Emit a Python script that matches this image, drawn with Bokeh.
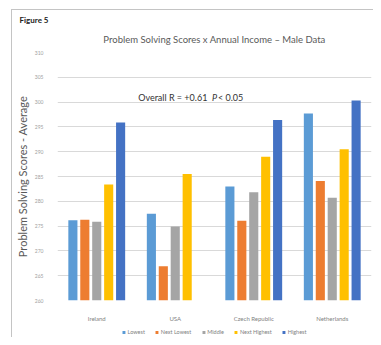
import math
from bokeh.plotting import figure
from bokeh.layouts import column
from bokeh.models import (ColumnDataSource, FactorRange, Range1d, FixedTicker, Title,
                          Legend, LegendItem, Label)
from bokeh.transform import dodge
from bokeh.embed import file_html
from bokeh.resources import INLINE

countries = ["Ireland", "USA", "Czech Republic", "Netherlands"]
series = ["Lowest", "Next Lowest", "Middle", "Next Highest", "Highest"]
lowest = [276.2, 277.5, 283.0, 297.7]
next_lowest = [276.3, 266.9, 276.1, 284.1]
middle = [275.9, 274.9, 281.8, 280.7]
next_highest = [283.4, 285.5, 289.0, 290.5]
highest = [295.9, float("nan"), 296.4, 300.3]
y_ticks = [260, 265, 270, 275, 280, 285, 290, 295, 300, 305, 310]
colors = ["#5B9BD5", "#ED7D31", "#A5A5A5", "#FFC000", "#4472C4"]

FONT = "Lato"

source = ColumnDataSource(dict(country=countries, Lowest=lowest, NextLowest=next_lowest,
                               Middle=middle, NextHighest=next_highest, Highest=highest))
cols = ["Lowest", "NextLowest", "Middle", "NextHighest", "Highest"]

# the whole chart sits inside a thin frame that starts at page x=11, y=9
p = figure(width=361, height=317, x_range=FactorRange(factors=countries, range_padding=0),
           y_range=Range1d(260, 310), output_backend="svg", toolbar_location=None,
           min_border_left=40, min_border_right=2, min_border_top=42, min_border_bottom=27)
p.outline_line_color = None
p.background_fill_color = "white"
p.border_fill_color = "white"

step = 0.152
for i, (c, col) in enumerate(zip(cols, colors)):
    p.vbar(x=dodge("country", (i - 2) * step, range=p.x_range), top=c, bottom=260,
           width=0.116, source=source, fill_color=col, line_color=None)

p.xgrid.grid_line_color = None
p.ygrid.grid_line_color = "#d9d9d9"
p.yaxis.ticker = FixedTicker(ticks=y_ticks)
for ax in (p.xaxis[0], p.yaxis[0]):
    ax.axis_line_color = None
    ax.major_tick_line_color = None
    ax.minor_tick_line_color = None
    ax.major_label_text_font = FONT
p.yaxis.major_label_text_font_size = "5px"
p.yaxis.major_label_text_color = "#a0a0a0"
p.yaxis.major_label_standoff = 8
p.yaxis.axis_label = "Problem Solving Scores - Average"
p.yaxis.axis_label_text_font = FONT
p.yaxis.axis_label_text_font_size = "11px"
p.yaxis.axis_label_text_font_style = "normal"
p.yaxis.axis_label_text_color = "#595959"
p.yaxis.axis_label_standoff = 3
p.xaxis.major_label_text_font_size = "6px"
p.xaxis.major_label_text_color = "#7f7f7f"
p.xaxis.major_label_standoff = 8

p.add_layout(Title(text="Problem Solving Scores x Annual Income \u2013 Male Data", align="center",
                   text_font=FONT, text_font_size="9.5px", text_font_style="normal",
                   text_color="#595959", standoff=15, offset=-4), "above")
p.add_layout(Title(text="Figure 5", align="left", offset=-38,
                   text_font=FONT, text_font_size="8px", text_font_style="bold",
                   text_color="#222222", standoff=0, text_line_height=0.8), "above")

def y_of(page_y):
    return 260 + (300 - page_y) / 4.96

def x_of(page_x):
    return (page_x - 52) / 79.75

p.add_layout(Label(x=x_of(134), y=y_of(97), text="Overall R = +0.61",
                   text_font=FONT, text_font_size="9px", text_color="#333333",
                   text_baseline="middle", text_align="left"))
p.add_layout(Label(x=x_of(209), y=y_of(97), text="P",
                   text_font=FONT, text_font_size="9px", text_color="#333333",
                   text_font_style="italic", text_baseline="middle", text_align="left"))
p.add_layout(Label(x=x_of(215), y=y_of(97), text="< 0.05",
                   text_font=FONT, text_font_size="9px", text_color="#333333",
                   text_baseline="middle", text_align="left"))

# legend strip
lg = figure(width=361, height=10, output_backend="svg", toolbar_location=None,
            x_range=FactorRange(factors=countries), y_range=Range1d(0, 1),
            x_axis_location=None, y_axis_location=None,
            min_border_left=0, min_border_right=0, min_border_top=0, min_border_bottom=0)
lg.outline_line_color = None
lg.grid.grid_line_color = None
lg.border_fill_color = "white"
proxies = [lg.vbar(x="country", top=c, bottom=260, width=0.1, source=source,
                   fill_color=col, line_color=None, visible=False)
           for c, col in zip(cols, colors)]
legend = Legend(items=[LegendItem(label=s, renderers=[r]) for s, r in zip(series, proxies)],
                location="center", orientation="horizontal",
                label_text_font=FONT, label_text_font_size="5.5px", label_text_color="#7f7f7f",
                glyph_width=4, glyph_height=4, label_standoff=2, spacing=10, padding=0, margin=0,
                label_width=1, border_line_color=None, background_fill_alpha=0, label_height=6,
                inactive_fill_alpha=0)
lg.add_layout(legend, "center")

layout = column(p, lg, spacing=0, margin=(9, 0, 0, 11),
                styles={"border-left": "1px solid #c4c4c4", "border-top": "1px solid #c4c4c4"})
open("out.html", "w").write(file_html(layout, INLINE))
